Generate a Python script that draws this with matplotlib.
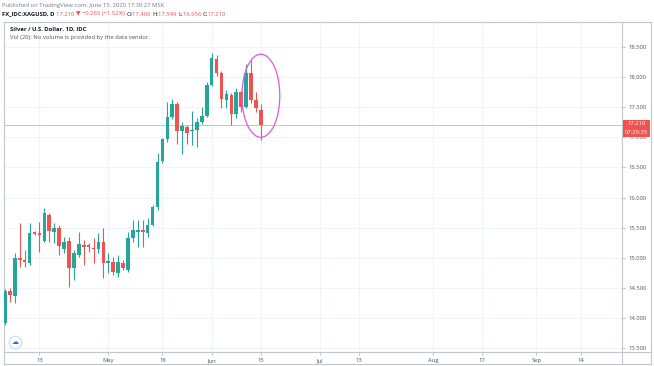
import matplotlib
matplotlib.use("Agg")
import numpy as np
import matplotlib.pyplot as plt
from matplotlib.patches import Ellipse, Rectangle
from matplotlib.lines import Line2D

# Данные: дневные свечи XAGUSD (2 апр – 15 июн 2020), индексы торговых дней
opens = [13.92, 14.45, 14.36, 14.99, 14.96, 14.91, 15.41, 15.41, 15.28, 15.71,
         15.43, 15.49, 15.14, 15.28, 14.83, 15.05, 15.21, 15.21, 15.16, 15.14,
         15.26, 14.92, 14.93, 14.75, 14.91, 14.80, 15.33, 15.43, 15.46, 15.41,
         15.54, 15.84, 16.61, 16.97, 17.34, 17.55, 17.10, 17.17, 17.10, 17.12,
         17.25, 17.35, 17.87, 18.30, 18.07, 17.62, 17.70, 17.39, 17.75, 17.50,
         18.07, 17.62, 17.46]
highs = [14.48, 14.50, 15.08, 15.58, 15.13, 15.58, 15.45, 15.59, 15.83, 15.74,
         15.58, 15.54, 15.34, 15.34, 15.13, 15.43, 15.29, 15.25, 15.33, 15.41,
         15.49, 15.08, 15.01, 15.05, 14.96, 15.43, 15.63, 15.63, 15.63, 15.66,
         15.87, 16.74, 16.99, 17.59, 17.64, 17.58, 17.25, 17.20, 17.44, 17.32,
         17.50, 17.92, 18.40, 18.37, 18.10, 17.79, 17.74, 17.82, 17.79, 18.22,
         18.28, 17.75, 17.549]
lows = [13.88, 14.26, 14.25, 14.85, 14.85, 14.88, 15.37, 15.09, 15.26, 15.26,
        15.24, 15.04, 15.08, 14.51, 14.63, 15.01, 14.88, 15.10, 14.91, 15.08,
        14.66, 14.75, 14.71, 14.68, 14.80, 14.76, 15.26, 15.18, 15.18, 15.34,
        15.53, 15.80, 16.58, 16.93, 17.30, 16.89, 16.72, 16.89, 16.87, 16.84,
        17.22, 17.33, 17.85, 18.02, 17.49, 17.49, 17.20, 17.32, 17.42, 17.48,
        17.57, 17.42, 16.956]
closes = [14.45, 14.38, 14.99, 14.96, 14.93, 15.41, 15.40, 15.38, 15.74, 15.44,
          15.49, 15.19, 15.26, 14.83, 15.08, 15.23, 15.18, 15.18, 15.14, 15.26,
          14.91, 14.93, 14.76, 14.93, 14.83, 15.33, 15.46, 15.46, 15.43, 15.54,
          15.84, 16.59, 16.97, 17.34, 17.55, 17.10, 17.19, 17.07, 17.12, 17.25,
          17.35, 17.87, 18.32, 18.07, 17.64, 17.72, 17.39, 17.75, 17.50, 18.07,
          17.62, 17.49, 17.21]

# подписи оси времени (индекс торгового дня)
tick_idx = [7, 21, 32, 42, 52, 64, 72, 87, 97, 108, 117]
tick_lbl = ["13", "May", "18", "Jun", "15", "Jul", "13", "Aug", "17", "Sep", "14"]
price_ticks = [13.5, 14.0, 14.5, 15.0, 15.5, 16.0, 16.5, 17.0, 17.5, 18.0, 18.5]
last_price = 17.21

up_c = "#26a69a"
dn_c = "#ef5350"
fam = ["Open Sans", "DejaVu Sans"]
txt_c = "#50535e"
border = "#c3c6cc"

W, H = 654, 366
fig = plt.figure(figsize=(W / 100, H / 100), dpi=100)
ax = fig.add_axes([4 / W, 14 / H, 618 / W, 330 / H])

x = np.arange(len(opens))
o = np.array(opens); c = np.array(closes)
hi = np.array(highs); lo = np.array(lows)
cols = np.where(c >= o, up_c, dn_c)

ax.vlines(x, lo, hi, colors=cols, linewidth=0.8, zorder=3)
body = np.maximum(np.abs(c - o), 0.02)
ax.bar(x, body, bottom=np.minimum(o, c), width=0.74, color=cols,
       linewidth=0, zorder=4)

ax.set_xlim(-0.2, 125.4)
ax.set_ylim(13.434, 18.915)

# сетка
for t in price_ticks:
    ax.axhline(t, color="#f0f3fa", linewidth=0.8, zorder=0)
for t in tick_idx:
    ax.axvline(t, color="#f0f3fa", linewidth=0.8, zorder=0)

# линия текущей цены
ax.axhline(last_price, color="#f5a3a2", linewidth=0.6, zorder=2)

# обведённая от руки область
ax.add_patch(Ellipse((52.0, 17.69), 7.7, 1.38, angle=0, fill=False,
                     edgecolor="#e056e6", linewidth=0.9, zorder=5))

ax.yaxis.tick_right()
ax.set_yticks(price_ticks)
ax.set_yticklabels([f"{t:.3f}" for t in price_ticks])
ax.set_xticks(tick_idx)
ax.set_xticklabels(tick_lbl)
ax.tick_params(axis="both", length=2, width=0.6, color="#b2b5be",
               labelsize=4.2, labelcolor=txt_c, pad=2.5)
for lab in ax.get_xticklabels() + ax.get_yticklabels():
    lab.set_family(fam)
for s in ax.spines.values():
    s.set_color(border)
    s.set_linewidth(0.8)

# рамка панели вокруг шкалы цены и времени
def fline(x0, y0, x1, y1, lw=0.8, col=border):
    fig.add_artist(Line2D([x0 / W, x1 / W], [1 - y0 / H, 1 - y1 / H],
                          color=col, linewidth=lw))

fline(622, 22, 651, 22)
fline(651, 22, 651, 364)
fline(4, 364, 651, 364)
fline(4, 352, 4, 364)
fline(622, 352, 622, 364)
fline(622, 352, 651, 352)

# плашка последней цены
y0 = 1 - 137 / H
fig.add_artist(Rectangle((623 / W, y0), 27 / W, 17 / H, facecolor=dn_c,
                         edgecolor="none", transform=fig.transFigure))
fig.text(636.5 / W, 1 - 124 / H, "17.210", color="white", fontsize=4.2,
         ha="center", va="center", family=fam)
fig.text(636.5 / W, 1 - 132.5 / H, "07:29:35", color="white", fontsize=4.2,
         ha="center", va="center", family=fam)

# логотип
ax.plot([11 / 618], [10 / 330], marker="o", markersize=9, markerfacecolor="white",
        markeredgecolor="#c9d9f5", markeredgewidth=0.8, transform=ax.transAxes,
        zorder=6, clip_on=False)
ax.text(11 / 618, 10 / 330, "☁", transform=ax.transAxes, color="#2962ff",
        fontsize=5, ha="center", va="center", family=["DejaVu Sans"], zorder=7)

# заголовки
fig.text(2 / W, 1 - 5 / H, "Published on TradingView.com, June 15, 2020 17:30:27 MSK",
         color="#787b86", fontsize=4.2, ha="left", va="center", family=fam)

parts = [("FX_IDC:XAGUSD, D ", "#131722", "bold"),
         ("17.210 ", dn_c, "normal"),
         ("▼ ", dn_c, "normal"),
         ("−0.265 (−1.52%) ", dn_c, "normal"),
         ("O:", "#131722", "normal"), ("17.460 ", dn_c, "normal"),
         ("H:", "#131722", "normal"), ("17.549 ", dn_c, "normal"),
         ("L:", "#131722", "normal"), ("16.956 ", dn_c, "normal"),
         ("C:", "#131722", "normal"), ("17.210", dn_c, "normal")]
prev = None
for s, col, wt in parts:
    if prev is None:
        prev = fig.text(2 / W, 1 - 14 / H, s, color=col, fontsize=4.2,
                        fontweight=wt, ha="left", va="center", family=fam)
    else:
        prev = ax.annotate(s, xy=(1, 0.5), xycoords=prev, xytext=(0, 0),
                           textcoords="offset points", color=col, fontsize=4.2,
                           fontweight=wt, ha="left", va="center", family=fam,
                           annotation_clip=False)

fig.text(10 / W, 1 - 29.5 / H, "Silver / U.S. Dollar, 1D, IDC", color="#131722",
         fontsize=4.2, fontweight="bold", ha="left", va="center", family=fam)
fig.text(10 / W, 1 - 37.5 / H, "Vol (20): No volume is provided by the data vendor.",
         color=txt_c, fontsize=4.2, ha="left", va="center", family=fam)

fig.savefig("out.png", dpi=100, facecolor="white")
